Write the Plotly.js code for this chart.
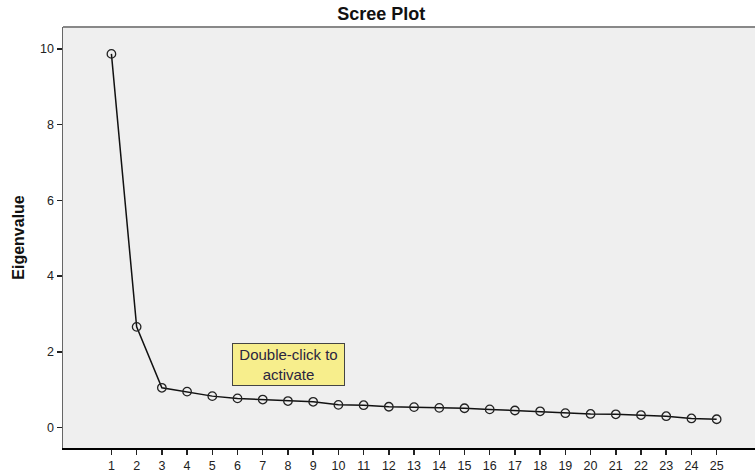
<!DOCTYPE html>
<html>
<head>
<meta charset="utf-8">
<script src="https://cdn.plot.ly/plotly-3.0.1.min.js"></script>
<style>html,body{margin:0;padding:0;background:#fff;}#chart{width:755px;height:472px;}</style>
</head>
<body>
<div id="chart"></div>
<script>
const componentNumbers = [1,2,3,4,5,6,7,8,9,10,11,12,13,14,15,16,17,18,19,20,21,22,23,24,25];
const eigenvalues = [9.87,2.66,1.05,0.95,0.83,0.77,0.74,0.70,0.68,0.60,0.59,0.55,0.54,0.52,0.51,0.48,0.45,0.43,0.38,0.36,0.35,0.33,0.30,0.24,0.22];
const chartTitle = "Scree Plot";
const yTitle = "Eigenvalue";
const noteText = "Double-click to<br>activate";

const trace = {
  x: componentNumbers,
  y: eigenvalues,
  type: 'scatter',
  mode: 'lines+markers',
  line: {color: '#111', width: 1.5},
  marker: {symbol: 'circle-open', size: 8.5, color: '#222', line: {width: 1.3, color: '#222'}},
  hoverinfo: 'x+y',
  showlegend: false
};

const layout = {
  width: 755,
  height: 472,
  margin: {l: 63, r: 0, t: 27, b: 24},
  paper_bgcolor: '#ffffff',
  plot_bgcolor: '#efefef',
  font: {family: '"Liberation Sans", Arial, sans-serif', size: 12, color: '#222'},
  title: {
    text: '<b>' + chartTitle + '</b>',
    font: {family: '"Liberation Sans", Arial, sans-serif', size: 18, color: '#111'},
    x: 0.505, xref: 'container', xanchor: 'center',
    y: 0.972, yref: 'container', yanchor: 'middle'
  },
  xaxis: {
    range: [-0.92, 26.52],
    tickvals: componentNumbers,
    ticktext: componentNumbers.map(String),
    ticks: 'outside', ticklen: 5, tickwidth: 1.5, tickcolor: '#222',
    showgrid: false, zeroline: false,
    showline: true, linecolor: '#000', linewidth: 1.5,
    tickfont: {size: 12.5, color: '#222'}
  },
  yaxis: {
    range: [-0.54, 10.58],
    tickvals: [0,2,4,6,8,10],
    ticks: 'outside', ticklen: 5, tickwidth: 1.5, tickcolor: '#222',
    showgrid: false, zeroline: false,
    showline: true, linecolor: '#666', linewidth: 1.5,
    tickfont: {size: 12.5, color: '#222'},
    title: {text: '<b>' + yTitle + '</b>', font: {size: 16, color: '#111'}, standoff: 11}
  },
  shapes: [
    {type: 'line', xref: 'paper', yref: 'paper', x0: 0, x1: 1, y0: 1, y1: 1,
     line: {color: '#888', width: 2}}
  ],
  annotations: [
    {
      text: noteText,
      xref: 'x', yref: 'y', x: 8.03, y: 1.67,
      showarrow: false,
      font: {family: '"Liberation Sans", Arial, sans-serif', size: 15, color: '#2a2540'},
      bgcolor: '#f7ee8c', bordercolor: '#444', borderwidth: 1, borderpad: 3,
      width: 105, height: 35, align: 'center', valign: 'middle'
    }
  ]
};

Plotly.newPlot('chart', [trace], layout, {displayModeBar: false, staticPlot: true});
</script>
</body>
</html>
